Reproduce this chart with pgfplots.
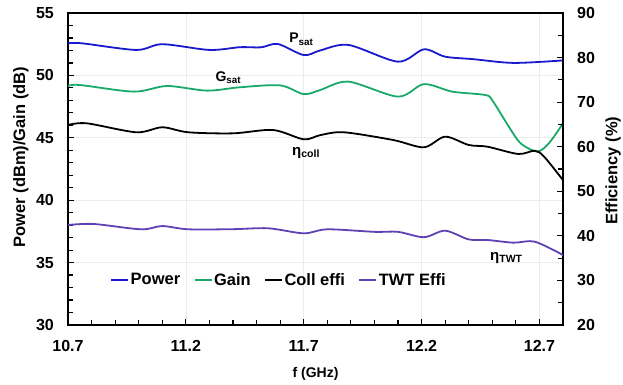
\documentclass[border=0pt]{standalone}
\usepackage{pgfplots}
\pgfplotsset{compat=1.18}
\usepackage{fontspec}
\setmainfont{Liberation Sans}
\definecolor{cpow}{RGB}{25,25,205}
\definecolor{cgain}{RGB}{25,170,105}
\definecolor{ctwt}{RGB}{95,65,180}
\begin{document}
\begin{tikzpicture}
\pgfplotsset{
 common/.style={
  scale only axis, width=495pt, height=312pt,
  xmin=10.7, xmax=12.8,
  /pgf/number format/assume math mode=true,
  ticklabel style={font=\bfseries\fontsize{16}{16}\selectfont},
  every axis/.append style={line width=1.6pt},
  tick align=inside,
  tick style={black, line width=1.2pt},
  major tick length=6pt, minor tick length=4pt,
 }
}
\begin{axis}[common, name=ax,
  ymin=30, ymax=55, ytick={30,35,...,55}, minor y tick num=4,
  xtick={10.7,11.2,11.7,12.2,12.7}, xticklabels={10.7,11.2,11.7,12.2,12.7},
  minor x tick num=4,
  tick pos=left,
  xmajorgrids, ymajorgrids, major grid style={gray!15, line width=0.6pt},
  xlabel={f (GHz)}, ylabel={Power (dBm)/Gain (dB)},
  yticklabel style={xshift=-10pt},
  xticklabel style={yshift=-11pt},
  xlabel style={at={(axis description cs:0.5,-0.157)}, anchor=center, font=\bfseries\fontsize{14}{14}\selectfont},
  ylabel style={at={(axis description cs:-0.095,0.538)}, anchor=center, font=\bfseries\fontsize{16.5}{16.5}\selectfont},
]
\addplot[cpow, line width=1.8pt, smooth] table {
10.70 52.57
10.76 52.57
10.99 52.04
11.10 52.50
11.30 52.04
11.43 52.26
11.52 52.25
11.59 52.52
11.70 51.63
11.77 52.00
11.89 52.44
12.10 51.10
12.21 52.09
12.30 51.50
12.42 51.30
12.59 51.00
12.80 51.20
};
\addplot[cgain, line width=1.8pt, smooth] table {
10.70 49.15
10.75 49.23
10.98 48.70
11.12 49.15
11.29 48.78
11.43 49.05
11.60 49.20
11.70 48.50
11.77 48.83
11.89 49.50
12.10 48.30
12.21 49.30
12.33 48.70
12.47 48.43
12.50 48.00
12.57 45.90
12.62 44.56
12.69 43.90
12.74 44.56
12.80 46.16
};
\pgfplotsinvokeforeach{10.8,10.9,11.0,11.1,11.2,11.3,11.4,11.5,11.6,11.7,11.8,11.9,12.0,12.1,12.2,12.3,12.4,12.5,12.6,12.7}{
  \draw[black, line width=1.2pt] (axis cs:#1,30) -- ++(0pt,5pt);
}
\pgfplotsinvokeforeach{31,32,33,34,35,36,37,38,39,40,41,42,43,44,45,46,47,48,49,50,51,52,53,54}{
  \draw[black, line width=1.2pt] (axis cs:10.7,#1) -- ++(5pt,0pt);
}
\node[font=\bfseries\fontsize{14}{14}\selectfont] at (axis cs:11.69,52.9) {P\textsubscript{sat}};
\node[font=\bfseries\fontsize{14}{14}\selectfont] at (axis cs:11.38,49.8) {G\textsubscript{sat}};
\node[font=\bfseries\fontsize{15}{15}\selectfont] at (axis cs:11.71,43.8) {η\textsubscript{coll}};
\node[font=\bfseries\fontsize{15}{15}\selectfont] at (axis cs:12.56,35.37) {η\textsubscript{TWT}};
\end{axis}
\begin{axis}[common,
  ymin=20, ymax=90, ytick={20,30,...,90}, minor y tick num=1,
  axis y line*=right, axis x line=none,
  ylabel={Efficiency (\%)},
  yticklabel style={xshift=10pt},
  ylabel style={at={(axis description cs:1.101,0.494)}, anchor=center, font=\bfseries\fontsize{16.5}{16.5}\selectfont},
  legend style={at={(0.078,0.144)}, anchor=west, draw=none, fill=none,
    legend columns=4, font=\bfseries\fontsize{16.5}{16.5}\selectfont,
    nodes={inner xsep=1.5pt},
    /tikz/every even column/.append style={column sep=12pt}},
  legend image code/.code={\draw[#1] (0pt,0pt) -- (17pt,0pt);},
]
\addlegendimage{cpow, line width=1.8pt}\addlegendentry{Power}
\addlegendimage{cgain, line width=1.8pt}\addlegendentry{Gain}
\addplot[black, line width=1.8pt, smooth] table {
10.70 64.87
10.78 65.25
10.99 63.24
11.10 64.36
11.21 63.24
11.40 63.00
11.57 63.75
11.70 61.66
11.77 62.60
11.87 63.24
12.08 61.50
12.21 59.87
12.30 62.25
12.40 60.39
12.48 60.00
12.61 58.37
12.68 59.10
12.72 57.76
12.80 52.50
};
\addlegendentry{Coll effi}
\addplot[ctwt, line width=1.8pt, smooth] table {
10.70 42.44
10.81 42.66
11.01 41.47
11.10 42.20
11.21 41.47
11.40 41.50
11.55 41.70
11.70 40.57
11.80 41.47
12.00 40.90
12.10 40.90
12.21 39.70
12.30 41.16
12.40 39.20
12.48 39.07
12.59 38.47
12.68 38.70
12.80 35.70
};
\addlegendentry{TWT Effi}
\pgfplotsinvokeforeach{25,30,35,40,45,50,55,60,65,70,75,80,85}{
  \draw[black, line width=1.2pt] (axis cs:12.8,#1) -- ++(-5pt,0pt);
}
\end{axis}
\pgfresetboundingbox
\path[use as bounding box] ([xshift=-68pt,yshift=-60pt]ax.south west) rectangle ++(623pt,385pt);
\end{tikzpicture}
\end{document}
